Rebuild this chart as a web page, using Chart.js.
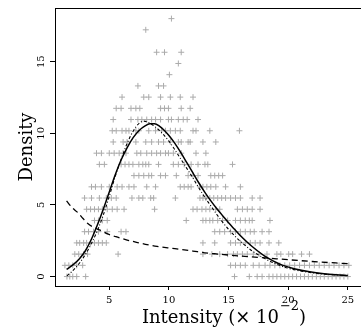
<!DOCTYPE html>
<html>
<head>
<meta charset="utf-8">
<script src="https://cdn.jsdelivr.net/npm/chart.js@4.4.0/dist/chart.umd.min.js"></script>
<style>
  html, body { margin: 0; padding: 0; background: #fff; overflow: hidden; }
  #wrap { width: 361px; height: 336px; overflow: hidden; }
</style>
</head>
<body>
<div id="wrap"><canvas id="chart" width="397" height="336"></canvas></div>
<script>
// observed densities come in fixed steps, one row per level
const densityLevels = [0, 0.783, 1.566, 2.349, 3.132, 3.915, 4.698, 5.481, 6.264, 7.047, 7.83, 8.613,
  9.396, 10.179, 10.962, 11.745, 12.528, 13.311, 14.094, 14.877, 15.66, 16.443, 17.226, 18.009];

const intensityRows = [
  [1.45, 1.69, 1.94, 2.27, 3.02, 15.5, 16.74, 17.4, 17.81, 18.39, 18.72, 19.05, 19.38, 19.71, 20.04, 20.37,
    20.7, 21.03, 21.36, 21.69, 22.02, 22.36, 22.69, 23.02, 23.35, 23.68, 24.01, 24.34, 24.67, 25.0],
  [1.28, 1.61, 1.94, 2.27, 2.77, 15.17, 15.58, 15.99, 16.4, 17.07, 17.56, 18.06, 18.47, 18.88, 19.3, 19.71,
    20.12, 20.54, 20.95, 21.36, 21.78, 22.19, 22.6, 23.02, 23.43, 23.84, 24.26, 24.67, 25.08],
  [2.11, 2.44, 2.85, 3.18, 5.74, 12.85, 13.6, 14.26, 14.92, 15.41, 15.74, 16.16, 16.57, 17.07, 17.56, 18.22,
    19.05, 19.38, 20.04, 20.37, 21.12, 21.78],
  [2.27, 2.52, 2.85, 3.1, 3.43, 3.76, 4.09, 4.42, 4.75, 12.85, 13.84, 15.17, 15.58, 15.99, 16.4, 16.82,
    17.23, 17.64, 18.39, 19.21],
  [2.93, 3.26, 3.68, 4.09, 4.83, 5.99, 6.4, 13.84, 14.26, 14.67, 15.17, 15.58, 15.99, 16.4, 16.82, 17.15,
    17.81, 18.39],
  [3.76, 4.09, 4.42, 4.83, 11.45, 12.85, 13.1, 13.43, 13.68, 14.09, 14.5, 14.92, 15.58, 15.99, 16.4, 16.74,
    16.98, 18.47],
  [3.1, 3.43, 3.76, 4.09, 4.42, 4.83, 5.25, 5.66, 6.24, 8.8, 12.02, 12.36, 12.77, 13.1, 13.43, 13.93, 14.26,
    15.74, 16.16, 16.57, 16.98, 17.64],
  [2.93, 3.51, 4.17, 4.75, 5.17, 5.58, 6.9, 7.48, 7.81, 8.47, 8.72, 10.54, 12.6, 12.85, 13.1, 13.43, 13.76,
    14.09, 14.42, 14.75, 15.17, 15.58, 15.99, 16.98, 17.64],
  [3.51, 3.84, 4.34, 5.0, 5.66, 6.07, 6.65, 7.07, 8.14, 8.88, 10.95, 11.28, 11.61, 11.86, 12.6, 12.85, 13.18,
    13.51, 13.93, 14.75, 15.99],
  [7.07, 7.48, 7.89, 8.31, 8.55, 9.3, 9.71, 10.62, 11.61, 12.02, 12.44, 13.51, 13.84, 14.17, 14.5],
  [4.17, 4.59, 5.99, 6.32, 6.65, 6.98, 7.48, 7.81, 8.06, 8.31, 9.13, 10.37, 10.79, 11.28, 11.86, 12.44,
    13.02, 13.26, 15.33],
  [3.93, 4.34, 5.0, 5.41, 5.83, 6.16, 6.4, 7.31, 7.64, 8.14, 8.55, 8.97, 9.3, 9.71, 9.96, 10.37, 11.03,
    12.27, 13.1],
  [5.33, 6.16, 6.49, 7.23, 8.06, 8.55, 9.13, 9.55, 10.12, 10.79, 11.03, 11.61, 11.78, 12.85, 13.93],
  [5.25, 5.58, 6.07, 6.4, 6.65, 7.23, 7.48, 8.31, 8.88, 9.38, 9.71, 10.12, 10.54, 10.95, 12.02, 12.27,
    13.43, 15.91],
  [5.33, 6.82, 7.4, 7.73, 8.14, 8.55, 8.88, 9.3, 9.96, 10.21, 10.79, 11.2, 11.53, 12.44],
  [5.58, 5.99, 6.82, 7.23, 7.56, 9.3, 9.63, 9.96, 11.03, 11.78],
  [6.07, 7.89, 8.31, 9.3, 10.12, 10.95, 12.02],
  [7.4, 9.13, 9.55],
  [10.04],
  [10.79],
  [8.97, 9.63, 11.03],
  [],
  [8.06],
  [10.21]
];

// fitted curves
const solidX = [1.42, 2.0, 2.5, 3.0, 3.5, 4.0, 4.5, 5.0, 5.5, 6.0, 6.5, 7.0, 7.5, 8.0, 8.4, 8.8, 9.2,
  9.6, 10.0, 10.5, 11.0, 11.5, 12.0, 12.5, 13.0, 13.5, 14.0, 14.5, 15.0, 15.5, 16.0, 16.5, 17.0, 17.5,
  18.0, 18.5, 19.0, 19.5, 20.5, 21.8, 23.0, 24.0, 25.0];
const solidY = [0.5, 0.85, 1.25, 1.8, 2.6, 3.6, 4.7, 5.9, 7.1, 8.15, 9.0, 9.7, 10.2, 10.52, 10.66, 10.66,
  10.5, 10.22, 9.85, 9.3, 8.65, 7.95, 7.25, 6.55, 5.9, 5.3, 4.75, 4.25, 3.75, 3.3, 2.85, 2.45, 2.08, 1.75,
  1.45, 1.2, 0.98, 0.8, 0.55, 0.33, 0.2, 0.13, 0.08];

const dotDashX = [1.45, 1.8, 2.2, 2.6, 3.0, 3.5, 4.0, 4.5, 5.0, 5.5, 6.0, 6.5, 7.0, 7.5, 7.9, 8.4, 9.0,
  9.5, 10.0, 10.5, 11.0, 11.5, 12.0, 12.5, 13.0, 13.5, 14.0, 14.5, 15.0, 15.5, 16.0, 17.0, 18.0, 19.0,
  20.0, 21.0, 22.0, 23.0, 24.0, 25.0];
const dotDashY = [0.05, 0.3, 0.65, 1.05, 1.55, 2.3, 3.2, 4.3, 5.6, 7.0, 8.2, 9.3, 10.15, 10.7, 10.85,
  10.7, 10.35, 9.95, 9.45, 8.85, 8.2, 7.55, 6.9, 6.2, 5.55, 4.95, 4.35, 3.8, 3.3, 2.85, 2.45, 1.78, 1.27,
  0.87, 0.58, 0.39, 0.26, 0.17, 0.11, 0.07];

const dashX = [1.42, 1.9, 2.38, 2.8, 3.2, 3.6, 4.17, 4.8, 5.55, 6.5, 7.0, 8.03, 9.0, 10.5, 12.0, 13.0,
  14.1, 16.0, 19.0, 22.0, 25.0];
const dashY = [5.28, 4.8, 4.45, 4.05, 3.7, 3.47, 3.26, 3.0, 2.78, 2.55, 2.45, 2.25, 2.1, 1.95, 1.78,
  1.66, 1.57, 1.43, 1.24, 1.05, 0.9];

const xTicks = [5, 10, 15, 20, 25];
const yTicks = [0, 5, 10, 15];

const serif = "'DejaVu Serif', serif";

const pairs = (xs, ys) => xs.map((x, i) => ({ x: x, y: ys[i] }));

const observed = [];
intensityRows.forEach((row, k) => {
  row.forEach((x) => observed.push({ x: x, y: densityLevels[k] }));
});

const lineStyle = {
  type: "line",
  pointRadius: 0,
  fill: false,
  borderColor: "#000",
  tension: 0.4,
  cubicInterpolationMode: "monotone",
};

const topFrame = {
  id: "topFrame",
  afterDraw(chart) {
    const { ctx, chartArea } = chart;
    ctx.save();
    ctx.strokeStyle = "#000";
    ctx.lineWidth = 1;
    ctx.beginPath();
    ctx.moveTo(chartArea.left, chartArea.top + 0.5);
    ctx.lineTo(chartArea.right, chartArea.top + 0.5);
    ctx.stroke();
    ctx.restore();
  },
};

// x title with a raised exponent
const xTitle = {
  id: "xTitle",
  afterDraw(chart) {
    const { ctx, chartArea } = chart;
    const main = "Intensity (\u00d7 10";
    const sup = "\u22122";
    const close = ")";
    ctx.save();
    ctx.fillStyle = "#000";
    ctx.textBaseline = "alphabetic";
    ctx.textAlign = "left";
    ctx.font = "18px " + serif;
    const wMain = ctx.measureText(main).width;
    const wClose = ctx.measureText(close).width;
    ctx.font = "13px " + serif;
    const wSup = ctx.measureText(sup).width;
    const base = chartArea.bottom + 37;
    let x = (chartArea.left + chartArea.right) / 2 - (wMain + wSup + wClose) / 2;
    ctx.font = "18px " + serif;
    ctx.fillText(main, x, base);
    x += wMain + 1;
    ctx.font = "13px " + serif;
    ctx.fillText(sup, x, base - 13);
    x += wSup;
    ctx.font = "18px " + serif;
    ctx.fillText(close, x, base);
    ctx.restore();
  },
};

new Chart(document.getElementById("chart"), {
  data: {
    datasets: [
      Object.assign({}, lineStyle, {
        label: "fit",
        data: pairs(solidX, solidY),
        borderWidth: 1.5,
        order: 1,
      }),
      Object.assign({}, lineStyle, {
        label: "fit 2",
        data: pairs(dotDashX, dotDashY),
        borderWidth: 1.1,
        borderDash: [3, 2, 1, 2],
        order: 2,
      }),
      Object.assign({}, lineStyle, {
        label: "fit 3",
        data: pairs(dashX, dashY),
        borderWidth: 1.3,
        borderDash: [6, 4],
        order: 3,
      }),
      {
        type: "scatter",
        label: "observed",
        data: observed,
        pointStyle: "cross",
        pointRadius: 3,
        borderWidth: 1,
        borderColor: "#ababab",
        backgroundColor: "#ababab",
        order: 4,
      },
    ],
  },
  options: {
    responsive: false,
    animation: false,
    events: [],
    layout: { padding: { top: 5, left: 0, right: 0, bottom: 0 } },
    plugins: {
      legend: { display: false },
      tooltip: { enabled: false },
    },
    scales: {
      x: {
        type: "linear",
        min: 0.45,
        max: 28.7,
        afterFit: (scale) => { scale.height = 50; },
        afterBuildTicks: (scale) => { scale.ticks = xTicks.map((v) => ({ value: v })); },
        grid: { display: true, drawOnChartArea: false, drawTicks: true, tickLength: 4, color: "#000" },
        border: { display: true, color: "#000", width: 1 },
        ticks: {
          color: "#000",
          font: { family: serif, size: 10 },
          padding: 4,
          maxRotation: 0,
        },
        title: { display: false },
      },
      y: {
        type: "linear",
        min: -0.66,
        max: 18.75,
        afterFit: (scale) => { scale.width = 55; },
        afterBuildTicks: (scale) => { scale.ticks = yTicks.map((v) => ({ value: v })); },
        grid: { display: true, drawOnChartArea: false, drawTicks: true, tickLength: 5, color: "#000" },
        border: { display: true, color: "#000", width: 1 },
        ticks: {
          color: "#000",
          font: { family: serif, size: 10 },
          padding: 2,
          minRotation: 90,
          maxRotation: 90,
          crossAlign: "center",
        },
        title: {
          display: true,
          text: "Density",
          color: "#000",
          font: { family: serif, size: 18 },
          padding: { top: 17, bottom: 0 },
        },
      },
    },
  },
  plugins: [topFrame, xTitle],
});
</script>
</body>
</html>
